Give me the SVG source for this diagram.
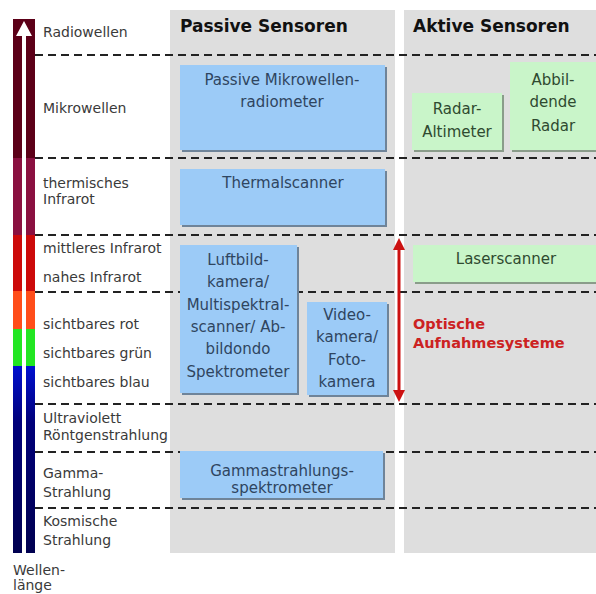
<svg xmlns="http://www.w3.org/2000/svg" width="596" height="594" viewBox="0 0 596 594">
<defs>
<style>
.lbl{font-family:"DejaVu Sans",sans-serif;font-size:14px;fill:#3a3a3a}
.hdr{font-family:"DejaVu Sans",sans-serif;font-size:17px;font-weight:bold;fill:#111}
.bt{font-family:"DejaVu Sans",sans-serif;font-size:15px;fill:#2f4560;text-anchor:middle}
.gt{font-family:"DejaVu Sans",sans-serif;font-size:15px;fill:#2f4a30;text-anchor:middle}
.opt{font-family:"DejaVu Sans",sans-serif;font-size:14.5px;font-weight:bold;fill:#cc2222}
.panel{fill:#dedede}
.dash{stroke:#222;stroke-width:2;stroke-dasharray:8 5;fill:none}
.bbox{fill:#9ccbf7}
.bsh{fill:#6f8499}
.gbox{fill:#c9f5c9}
.gsh{fill:#8a9c8a}
</style>
<linearGradient id="navy" x1="0" y1="0" x2="0" y2="1">
<stop offset="0" stop-color="#0010d0"/>
<stop offset="0.3" stop-color="#00007a"/>
<stop offset="1" stop-color="#000050"/>
</linearGradient>
<marker id="ah" viewBox="0 0 10 10" refX="5" refY="5" markerWidth="4" markerHeight="4" orient="auto-start-reverse" markerUnits="strokeWidth">
<path d="M0,0 L10,5 L0,10 z" fill="#cc1111"/>
</marker>
</defs>
<rect width="596" height="594" fill="#fff"/>

<g id="scale-bar">
<rect x="13" y="19" width="22" height="139" fill="#5c0018"/>
<rect x="13" y="158" width="22" height="77" fill="#8a1040"/>
<rect x="13" y="235" width="22" height="56" fill="#cc0a0a"/>
<rect x="13" y="291" width="22" height="38" fill="#ff4d1a"/>
<rect x="13" y="329" width="22" height="37" fill="#22e622"/>
<rect x="13" y="366" width="22" height="187" fill="url(#navy)"/>
<rect x="22" y="30" width="4" height="523" fill="#fff"/>
<path d="M24,21 L32,36 L16,36 z" fill="#fff"/>
</g>

<g id="panels">
<rect class="panel" x="170" y="10" width="225" height="543"/>
<rect class="panel" x="404" y="10" width="192" height="543"/>
</g>

<g id="separators">
<line class="dash" x1="35" y1="55" x2="596" y2="55"/>
<line class="dash" x1="35" y1="158" x2="596" y2="158"/>
<line class="dash" x1="35" y1="235" x2="596" y2="235"/>
<line class="dash" x1="35" y1="292" x2="596" y2="292"/>
<line class="dash" x1="35" y1="404" x2="596" y2="404"/>
<line class="dash" x1="35" y1="452" x2="596" y2="452"/>
<line class="dash" x1="35" y1="508" x2="596" y2="508"/>
</g>

<g id="headers">
<text class="hdr" x="180" y="32">Passive Sensoren</text>
<text class="hdr" x="413" y="32">Aktive Sensoren</text>
</g>

<g id="labels">
<text class="lbl" x="43" y="37">Radiowellen</text>
<text class="lbl" x="43" y="113">Mikrowellen</text>
<text class="lbl" x="43" y="188">thermisches</text>
<text class="lbl" x="43" y="204">Infrarot</text>
<text class="lbl" x="43" y="253">mittleres Infrarot</text>
<text class="lbl" x="43" y="282">nahes Infrarot</text>
<text class="lbl" x="43" y="329">sichtbares rot</text>
<text class="lbl" x="43" y="358">sichtbares grün</text>
<text class="lbl" x="43" y="387">sichtbares blau</text>
<text class="lbl" x="43" y="423">Ultraviolett</text>
<text class="lbl" x="43" y="440">Röntgenstrahlung</text>
<text class="lbl" x="43" y="478">Gamma-</text>
<text class="lbl" x="43" y="497">Strahlung</text>
<text class="lbl" x="43" y="526">Kosmische</text>
<text class="lbl" x="43" y="545">Strahlung</text>
<text class="lbl" x="13" y="575">Wellen-</text>
<text class="lbl" x="13" y="590">länge</text>
</g>

<g id="mikrowellenradiometer">
<rect class="bsh" x="182" y="67" width="205" height="85"/>
<rect class="bbox" x="180" y="65" width="205" height="85"/>
<text class="bt" x="282" y="85">Passive Mikrowellen-</text>
<text class="bt" x="282" y="107">radiometer</text>
</g>

<g id="thermalscanner">
<rect class="bsh" x="182" y="171" width="205" height="56"/>
<rect class="bbox" x="180" y="169" width="205" height="56"/>
<text class="bt" x="283" y="188">Thermalscanner</text>
</g>

<g id="luftbildkamera">
<rect class="bsh" x="182" y="247" width="117" height="148"/>
<rect class="bbox" x="180" y="245" width="117" height="148"/>
<text class="bt" x="238" y="265">Luftbild-</text>
<text class="bt" x="238" y="287">kamera/</text>
<text class="bt" x="238" y="310">Multispektral-</text>
<text class="bt" x="238" y="332">scanner/ Ab-</text>
<text class="bt" x="238" y="354">bildondo</text>
<text class="bt" x="238" y="377">Spektrometer</text>
</g>

<g id="videokamera">
<rect class="bsh" x="309" y="304" width="80" height="93"/>
<rect class="bbox" x="307" y="302" width="80" height="93"/>
<text class="bt" x="347" y="320">Video-</text>
<text class="bt" x="347" y="342">kamera/</text>
<text class="bt" x="347" y="365">Foto-</text>
<text class="bt" x="347" y="387">kamera</text>
</g>

<g id="gammaspektrometer">
<rect class="bsh" x="182" y="453" width="203" height="47"/>
<rect class="bbox" x="180" y="451" width="203" height="47"/>
<text class="bt" x="282" y="476">Gammastrahlungs-</text>
<text class="bt" x="282" y="493">spektrometer</text>
</g>

<g id="radaraltimeter">
<rect class="gsh" x="414" y="95" width="90" height="57"/>
<rect class="gbox" x="412" y="93" width="90" height="57"/>
<text class="gt" x="457" y="114">Radar-</text>
<text class="gt" x="457" y="137">Altimeter</text>
</g>

<g id="abbildenderadar">
<rect class="gsh" x="512" y="64" width="86" height="88"/>
<rect class="gbox" x="510" y="62" width="86" height="88"/>
<text class="gt" x="553" y="85">Abbil-</text>
<text class="gt" x="553" y="107">dende</text>
<text class="gt" x="553" y="131">Radar</text>
</g>

<g id="laserscanner">
<rect class="gsh" x="415" y="247" width="183" height="37"/>
<rect class="gbox" x="413" y="245" width="183" height="37"/>
<text class="gt" x="506" y="264">Laserscanner</text>
</g>

<g id="connectors">
<line x1="399" y1="244" x2="399" y2="396" stroke="#cc1111" stroke-width="3" marker-start="url(#ah)" marker-end="url(#ah)"/>
</g>

<g id="optische">
<text class="opt" x="413" y="329">Optische</text>
<text class="opt" x="413" y="348">Aufnahmesysteme</text>
</g>
</svg>
